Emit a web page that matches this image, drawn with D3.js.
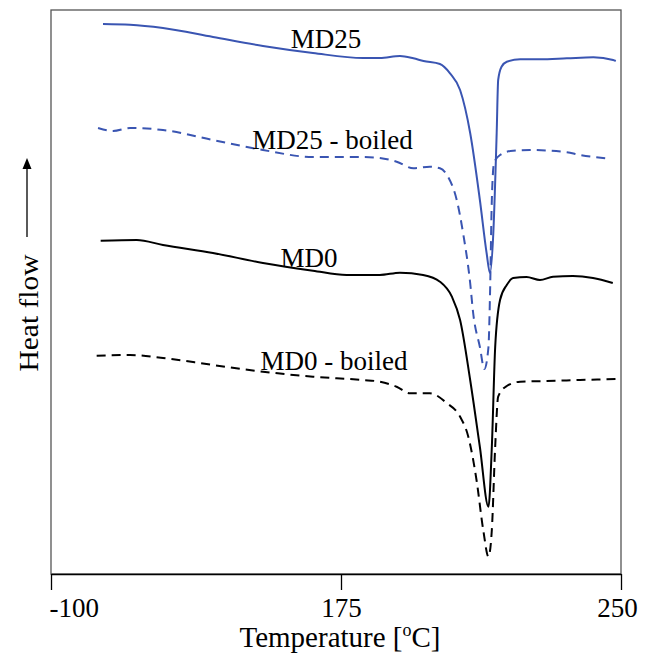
<!DOCTYPE html>
<html><head><meta charset="utf-8">
<script src="https://cdn.jsdelivr.net/npm/d3@7"></script>
<style>
body{margin:0;background:#fff;}
text{font-family:"Liberation Serif","Times New Roman",serif;fill:#000;}
</style></head>
<body><svg id="c" width="649" height="654"></svg>
<script>
// x tick values (axis is piecewise: -100 .. 175 .. 250)
const tickValues = [-100, 175, 250];
const tickLabels = ["-100", "175", "250"];

// Heat flow (arbitrary units), temperature in °C
const md25T = [-50.7,-25.1,6.2,53.6,101.0,148.4,180.9,185.4,190.8,194.4,197.1,201.5,204.2,206.9,209.6,212.2,214.0,214.9,215.8,216.7,217.1,218.0,219.4,223.0,228.3,235.5,242.6,247.9,248.6];
const md25V = [55.0,54.93,54.6,53.7,52.8,52.1,51.6,51.6,51.8,51.57,51.3,51.0,50.07,48.4,44.1,37.4,32.1,30.1,34.1,44.1,49.4,50.73,51.23,51.47,51.47,51.57,51.67,51.4,51.3];

const md25bT = [-55.4,-41.2,-25.1,6.2,53.6,101.0,148.4,180.9,185.4,189.9,194.4,198.8,201.5,203.7,206.0,207.7,209.6,210.4,212.2,213.4,214.5,214.9,215.4,216.0,217.6,221.1,225.6,235.5,239.0,246.1];
const md25bV = [44.6,44.3,44.6,44.4,43.4,42.4,41.7,41.7,41.6,41.23,40.57,40.73,40.57,39.7,37.4,34.1,29.1,26.1,22.7,20.5,22.7,27.7,37.4,41.1,41.9,42.33,42.4,42.17,41.9,41.57];

const md0T = [-52.9,-18.7,6.2,53.6,101.0,148.4,176.5,185.4,190.8,197.0,201.5,204.7,206.9,209.6,212.2,214.5,215.4,216.3,217.6,219.4,221.1,224.7,228.3,231.8,237.1,242.5,247.8];
const md0V = [33.33,33.4,32.9,32.1,31.1,30.33,29.9,29.9,30.13,29.9,29.23,27.73,25.4,19.4,12.7,6.73,12.7,22.7,27.4,28.9,29.6,29.7,29.4,29.73,29.8,29.6,29.1];

const md0bT = [-56.7,-25.1,6.2,53.6,101.0,148.4,180.9,185.4,189.9,193.5,198.8,203.3,206.9,209.1,211.3,213.1,214.5,215.4,216.3,217.1,219.4,223.0,230.1,239.0,248.8];
const md0bV = [21.83,21.9,21.6,20.9,20.23,19.73,19.4,19.23,18.73,18.07,18.07,17.1,15.73,13.73,9.4,4.4,1.73,4.4,12.73,17.73,18.8,19.23,19.3,19.4,19.5];

const seriesNames = ["MD25", "MD25 - boiled", "MD0", "MD0 - boiled"];
const labelT = [160.8, 167.0, 144.7, 168.4];
const labelV = [52.6, 42.5, 30.7, 20.4];

const svg = d3.select("#c");
const x = d3.scaleLinear().domain(tickValues).range([51, 341, 621]);
const y = d3.scaleLinear().domain([0, 56.4]).range([574, 10]);

// frame
svg.append("rect").attr("x", 51).attr("y", 10).attr("width", 570).attr("height", 564)
  .attr("fill", "none").attr("stroke", "#555").attr("stroke-width", 1.3);

const series = [
  {t: md25T, v: md25V, color: "#3a55b2", dash: null},
  {t: md25bT, v: md25bV, color: "#3a55b2", dash: "9,6"},
  {t: md0T, v: md0V, color: "#000", dash: null},
  {t: md0bT, v: md0bV, color: "#000", dash: "9,6"}
];
const line = d3.line().x(d => x(d[0])).y(d => y(d[1])).curve(d3.curveMonotoneX);
series.forEach(s => {
  svg.append("path").datum(s.t.map((t, i) => [t, s.v[i]]))
    .attr("d", line).attr("fill", "none").attr("stroke", s.color)
    .attr("stroke-width", 2).attr("stroke-dasharray", s.dash);
});

// series labels
seriesNames.forEach((n, i) => {
  svg.append("text").attr("x", x(labelT[i])).attr("y", y(labelV[i]))
    .attr("text-anchor", "middle").attr("font-size", 27).text(n);
});

// x axis
const ax = svg.append("g").attr("transform", "translate(0,574)")
  .call(d3.axisBottom(x).tickValues(tickValues).tickFormat((d, i) => tickLabels[i])
    .tickSize(16).tickSizeOuter(0).tickPadding(8));
ax.select(".domain").attr("stroke", "#000").attr("stroke-width", 1.5);
ax.selectAll(".tick line").attr("stroke", "#000").attr("stroke-width", 1.3);
ax.selectAll(".tick text").attr("font-size", 27).attr("font-family", "Liberation Serif, serif").attr("fill", "#000");
ax.selectAll(".tick text").filter((d, i) => i === 0).attr("text-anchor", "start").attr("x", -2);
ax.selectAll(".tick text").filter((d, i) => i === 2).attr("x", -4);

// x title
const tt = svg.append("text").attr("x", 340).attr("y", 647).attr("text-anchor", "middle").attr("font-size", 29);
tt.append("tspan").text("Temperature [");
tt.append("tspan").attr("dy", -11).attr("font-size", 18).text("o");
tt.append("tspan").attr("dy", 11).text("C]");

// y title
svg.append("text").attr("transform", "translate(38,313) rotate(-90)")
  .attr("text-anchor", "middle").attr("font-size", 27)
  .attr("textLength", 117).attr("lengthAdjust", "spacingAndGlyphs").text("Heat flow");
svg.append("line").attr("x1", 27).attr("x2", 27).attr("y1", 168).attr("y2", 237)
  .attr("stroke", "#000").attr("stroke-width", 1.3);
svg.append("path").attr("d", "M27,158 L22.5,169 L31.5,169 Z").attr("fill", "#000");
</script></body></html>
